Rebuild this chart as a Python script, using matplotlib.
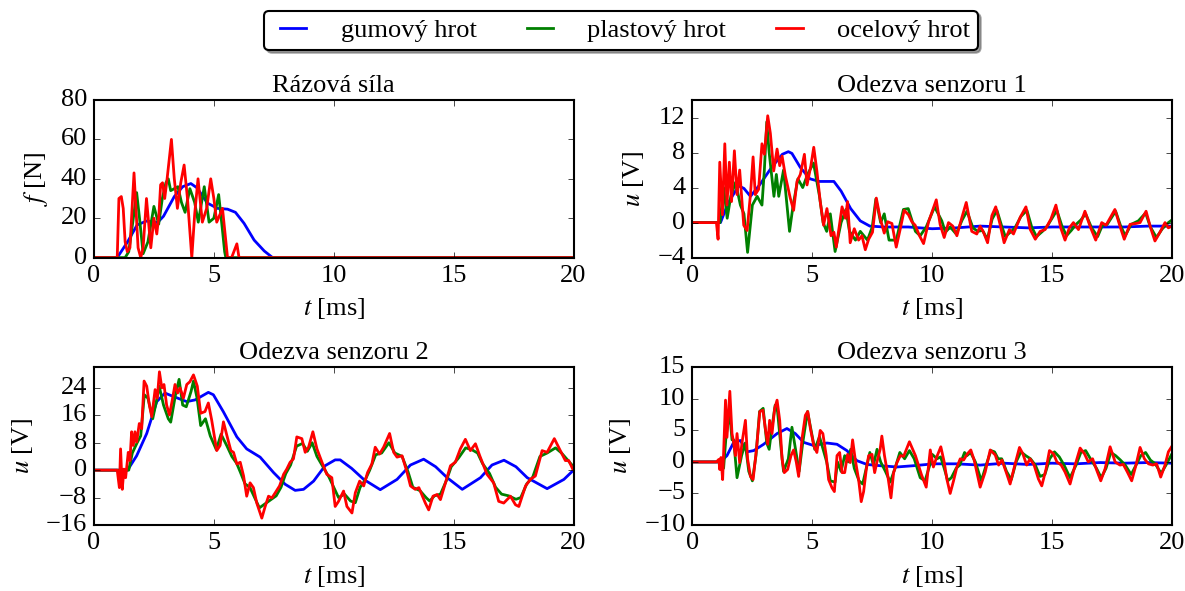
import numpy as np
import matplotlib
matplotlib.use('Agg')
import matplotlib.pyplot as plt

plt.style.use('classic')
plt.rcParams['font.family'] = ['Liberation Serif', 'DejaVu Serif']
plt.rcParams['mathtext.fontset'] = 'stix'
plt.rcParams['font.size'] = 19
plt.rcParams['figure.facecolor'] = 'white'
plt.rcParams['savefig.facecolor'] = 'white'

labels = ['gumový hrot', 'plastový hrot', 'ocelový hrot']
colors = ['b', 'g', 'r']

#******** Rázová síla [N] *************
f_gum_t = [0, 0.97, 1.4, 1.8, 2.2, 2.65, 2.9, 3.35, 3.7, 4.04, 4.3, 4.73, 5.15, 5.57,
           5.9, 6.26, 6.68, 7.1, 7.45, 20]
f_gum_v = [0, 0, 8, 16.6, 18.6, 17.8, 21, 31, 36, 37.6, 35.4, 27.7, 25, 24.6,
           23, 17.4, 8.9, 3.4, 0, 0]
f_pla_t = [0, 1.3, 1.45, 1.62, 1.78, 1.9, 2.05, 2.25, 2.5, 2.7, 2.85, 3.0, 3.1, 3.2,
           3.35, 3.5, 3.65, 3.8, 4.0, 4.2, 4.35, 4.6, 4.8, 5.0, 5.2, 5.35, 5.45, 5.5, 20]
f_pla_v = [0, 0, 3, 18, 33, 20, 2, 8, 26, 17, 30, 38, 40, 34,
           35, 36, 28, 23, 35, 28, 18, 36, 18, 20, 32, 15, 3, 0, 0]
f_oce_t = [0, 0.97, 1.04, 1.14, 1.22, 1.3, 1.39, 1.5, 1.67, 1.84, 1.95, 2.05, 2.19,
           2.37, 2.5, 2.62, 2.71, 2.78, 2.86, 2.95, 3.05, 3.23, 3.35, 3.48, 3.62,
           3.76, 3.9, 4.08, 4.2, 4.34, 4.52, 4.7, 4.87, 5.0, 5.12, 5.36, 5.57,
           5.74, 5.96, 6.05, 20]
f_oce_v = [0, 0, 30, 31, 25, 8, 3, 5, 43, 5, 0, 5, 30,
           5, 20, 12, 22, 37, 38, 30, 40, 60, 40, 25, 38,
           47, 30, 0, 22, 40, 18, 25, 40, 30, 18, 25, 0,
           0, 7, 0, 0]

#******** Odezva senzoru 1 [V] *************
u1_gum_t = [0, 1.17, 1.5, 1.93, 2.15, 2.42, 2.8, 3.3, 3.75, 4.0, 4.15, 4.5, 4.9, 5.3,
            5.9, 6.2, 6.6, 7.0, 7.4, 8, 9, 10, 11, 12, 13, 14, 15, 16, 17, 18, 19, 20]
u1_gum_v = [0, 0, 2.3, 4.2, 3.9, 3.0, 4.3, 6.3, 7.8, 8.1, 7.9, 6.3, 5.0, 4.7,
            4.7, 3.6, 1.6, 0.2, -0.4, -0.5, -0.5, -0.7, -0.6, -0.4, -0.5, -0.6,
            -0.5, -0.5, -0.5, -0.5, -0.4, -0.4]
u1_pla_t = [0, 1.15, 1.3, 1.45, 1.6, 1.8, 2.0, 2.15, 2.3, 2.5, 2.7, 2.9, 3.0, 3.1,
            3.2, 3.4, 3.5, 3.6, 3.8, 4.05, 4.2, 4.4, 4.6, 4.8, 5.05, 5.3, 5.45, 5.6,
            5.75, 5.95, 6.2, 6.4, 6.55, 6.8, 7.0, 7.3, 7.5, 7.65, 7.85, 8.0, 8.2,
            8.5, 8.8, 9.0, 9.3, 9.5, 9.75, 10.1, 10.4, 10.55, 10.75, 11.0, 11.25,
            11.45, 11.7, 11.9, 12.1, 12.3, 12.5, 12.7, 12.9, 13.05, 13.3, 13.45,
            13.7, 13.95, 14.15, 14.35, 14.6, 14.8, 15.0, 15.2, 15.4, 15.6, 15.8,
            16.0, 16.2, 16.4, 16.65, 16.9, 17.1, 17.3, 17.65, 17.85, 18.05, 18.3,
            18.6, 18.9, 19.1, 19.35, 19.6, 19.85, 20.0]
u1_pla_v = [0, 0, 4, 0.5, 3, 4.6, 2, 1, -3.4, 2, 3, 2, 6, 11.5,
            8, 3, 5.5, 3, 6, -1, 2, 5, 4, 5.5, 6.8, 3, 0, -1,
            1, -3.3, 0, 1.5, -1, -2, -1, -2, -0.5, 2.7, 0, 1, -2,
            -2, 1.5, 1.6, -1, -1.5, -0.5, 1.8, 0.2, -1.1, -0.5, -1.3, 0.3,
            1.3, -0.6, -1.0, -0.9, -1.9, 0.4, 1.4, -0.4, -1.6, -1.0, -0.6,
            0.7, 1.4, -0.5, -1.6, -1.0, -0.4, 0.5, 1.4, -0.3, -1.5, -0.9,
            -0.2, 0.3, 1.0, -0.6, -1.6, -0.3, -0.2, 1.3, -0.3, -1.5, -0.2,
            0.2, 1.1, -0.5, -1.7, -0.7, 0, 0.3]
u1_oce_t = [0, 1.0, 1.07, 1.14, 1.25, 1.35, 1.44, 1.54, 1.63, 1.75, 1.86, 1.97,
            2.14, 2.28, 2.42, 2.53, 2.62, 2.76, 2.9, 3.0, 3.14, 3.25, 3.39, 3.53,
            3.64, 3.74, 3.88, 4.08, 4.22, 4.36, 4.5, 4.67, 4.78, 4.94, 5.06, 5.19,
            5.33, 5.47, 5.61, 5.78, 5.9, 6.0, 6.24, 6.38, 6.47, 6.58, 6.75, 6.93,
            7.07, 7.21, 7.35, 7.51, 7.67, 7.83, 8.0, 8.14, 8.32, 8.5, 8.67, 8.83,
            9.01, 9.15, 9.29, 9.47, 9.64, 9.85, 10.17, 10.33, 10.5, 10.68, 10.86,
            11.03, 11.24, 11.42, 11.65, 11.86, 12.0, 12.14, 12.31, 12.49, 12.65,
            12.83, 13.0, 13.22, 13.39, 13.67, 13.91, 14.09, 14.3, 14.5, 14.71,
            14.95, 15.16, 15.36, 15.54, 15.72, 15.89, 16.1, 16.37, 16.58, 16.82,
            17.07, 17.25, 17.62, 17.83, 18.01, 18.25, 18.5, 18.67, 18.92, 19.11,
            19.29, 19.5, 19.71, 19.85, 20.0]
u1_oce_v = [0, 0, -1.9, 6.9, 0.9, 9.0, 2.0, 6.9, 2.4, 8.2, 3.2, 6.0,
            -0.3, -0.9, 3.2, 7.5, 3.2, 3.8, 9.0, 7.8, 12.2, 10.2, 5.9, 8.4,
            6.5, 7.6, 5.3, 2.8, 1.4, 4.7, 5.5, 7.8, 4.3, 6.5, 8.6, 5.9,
            2.4, -0.3, 1.6, -1.5, -1.1, -2.8, 1.8, 0.5, 2.4, -2.3, -0.7, -2.0,
            -1.5, -3.1, -1.9, -1.1, 2.8, 0.5, -1.2, 0.1, -0.1, -2.8, -0.7, 1.4,
            0.9, 0.1, -0.3, -1.5, -2.4, 0.1, 2.6, -0.2, -1.7, 0, -0.4,
            -1.5, 0.6, 2.3, -1.0, -1.3, -0.4, -1.1, -2.3, 0.8, 1.8,
            -0.2, -2.3, -0.8, -1.3, 0.6, 1.8, -0.8, -1.9, -1.0, -0.8,
            0.4, 2.0, -0.6, -2.0, -0.6, 0, -0.8, 1.3, -0.4, -2.0,
            0, -0.3, 1.5, -0.4, -1.9, -0.2, -0.1, 0, 1.3, -0.6,
            -2.1, -1.1, 0, -0.6, -0.4]

#******** Odezva senzoru 2 [V] *************
u2_gum_t = [0, 1.4, 1.78, 2.2, 2.62, 2.96, 3.31, 3.87, 4.22, 4.77, 4.98, 5.4, 5.96,
            6.37, 6.93, 7.49, 7.97, 8.39, 8.74, 9.16, 9.64, 10.06, 10.27, 10.75,
            11.25, 11.94, 12.64, 13.2, 13.75, 14.25, 14.73, 15.36, 16.12, 16.6,
            17.1, 17.6, 18.07, 18.9, 19.6, 20.0]
u2_gum_v = [0, 0, 4.2, 10.7, 20, 22.5, 21.5, 20, 20.5, 22.7, 22, 17, 9.7,
            6.2, 3.8, -0.7, -4.1, -5.9, -5.6, -3.2, 1.3, 3.0, 3.0, 0.5,
            -2.7, -5.7, -2.7, 1.5, 3.2, 1.0, -2.2, -5.6, -2.2, 1.5,
            2.9, 1.0, -2.2, -5.4, -2.7, 0]
u2_pla_t = [0, 1.45, 1.6, 1.8, 1.95, 2.1, 2.25, 2.45, 2.6, 2.72, 2.9, 3.1, 3.2, 3.4,
            3.55, 3.7, 3.85, 4.05, 4.15, 4.3, 4.45, 4.65, 4.85, 5.1, 5.3, 5.55,
            5.75, 5.95, 6.1, 6.3, 6.5, 6.7, 6.9, 7.1, 7.3, 7.6, 7.8, 8.0, 8.2,
            8.45, 8.7, 8.9, 9.1, 9.3, 9.55, 9.8, 10.0, 10.2, 10.45, 10.7, 10.9,
            11.1, 11.3, 11.5, 11.75, 12.0, 12.3, 12.55, 12.85, 13.1, 13.3, 13.6,
            13.85, 14.0, 14.2, 14.45, 14.7, 14.9, 15.2, 15.5, 15.75, 16.0, 16.2,
            16.5, 16.75, 17.0, 17.3, 17.6, 17.8, 18.05, 18.3, 18.6, 18.9, 19.25,
            19.5, 19.75, 20.0]
u2_pla_v = [0, 0, 5, 8, 10, 22, 21, 15, 20, 24.5, 19, 15, 14, 22,
            26.5, 19, 18.5, 23, 26, 21, 13, 15, 10, 6, 10.5, 7,
            4, 2, -0.5, -4, -5, -8, -11, -10, -9, -7.5, -5, -1, 1.5,
            7, 7.8, 5.5, 8, 4, 1, -2, -5, -8, -7, -9, -9.5,
            -5, -3, 0, 4.5, 5, 8, 5, 4, -0.5, -5, -6,
            -8, -9, -7.5, -7, -3, 1, 3.5, 6.5, 6, 5, 2,
            -1, -5, -7, -7.5, -8.5, -8, -4, -2, 4, 5, 6.5,
            5, 3, 1]
u2_oce_t = [0, 0.97, 1.06, 1.11, 1.18, 1.25, 1.32, 1.43, 1.5, 1.57, 1.64, 1.71, 1.78,
            1.89, 1.99, 2.09, 2.2, 2.31, 2.41, 2.55, 2.64, 2.73, 2.83, 2.92, 3.03,
            3.15, 3.28, 3.38, 3.49, 3.59, 3.73, 3.87, 4.0, 4.15, 4.31, 4.45, 4.63,
            4.77, 4.91, 5.12, 5.26, 5.4, 5.54, 5.71, 5.82, 5.96, 6.1, 6.24, 6.37,
            6.51, 6.65, 6.79, 7.0, 7.14, 7.28, 7.42, 7.56, 7.74, 7.91, 8.04, 8.18,
            8.32, 8.46, 8.67, 8.81, 8.95, 9.13, 9.3, 9.51, 9.71, 9.92, 10.06,
            10.2, 10.41, 10.55, 10.76, 10.9, 11.08, 11.25, 11.41, 11.59, 11.73,
            11.91, 12.08, 12.33, 12.5, 12.64, 12.85, 13.06, 13.2, 13.4, 13.55,
            13.82, 13.96, 14.14, 14.31, 14.45, 14.66, 14.87, 15.07, 15.28, 15.49,
            15.7, 15.91, 16.09, 16.39, 16.67, 16.88, 17.09, 17.37, 17.58, 17.72,
            18.0, 18.2, 18.41, 18.69, 18.9, 19.2, 19.45, 19.66, 19.8, 19.97]
u2_oce_v = [0, 0, -5.1, 6.2, -5.6, 0.3, -2.2, 5.2, 2.8, 11.2, 7.2, 11.2, 8.2,
            13.6, 12.1, 26, 24.5, 19, 15.6, 23.5, 21, 28.7, 24, 25, 19,
            16.1, 21, 25, 22.5, 24, 21, 25, 25.8, 27.8, 24.5, 16.6, 17.1,
            19.6, 14.6, 5.7, 7.2, 14.1, 10.2, 5.7, 5.2, 1.8, 2.3, -1.7, -7.6,
            -3.7, -5.1, -9.6, -14, -10.6, -7.6, -8.1, -6.6, -4.6, -1.2, 0.3, 2.3,
            3.3, 9.7, 9.2, 5.2, 6.7, 11.2, 6.2, 2.3, -1.2, -2.2, -10.6,
            -9.1, -6.1, -10.6, -12.5, -6.6, -3.2, -4.6, -0.7, 1.8, 6.7,
            4.7, 6.7, 10.7, 5.2, 3.8, 4.2, -0.7, -4.6, -5.6, -5.1,
            -9.6, -11.6, -7.6, -7.1, -8.6, -3.7, 1.3, 2.3, 6.2, 9.0,
            5.7, 7.7, 4.2, -1.2, -3.7, -9.1, -9.6, -7.6, -10.1, -10.6,
            -4.6, -2.7, -1.7, 5.7, 5.2, 9.2, 5.7, 2.8, 2.8, 0.3]

#******** Odezva senzoru 3 [V] *************
u3_gum_t = [0, 1.17, 1.44, 1.72, 2.0, 2.28, 2.56, 2.97, 3.53, 3.94, 4.29, 4.64, 5.06,
            5.61, 6.03, 6.44, 6.86, 7.28, 7.83, 8.53, 9.22, 10.06, 11, 12, 13, 14,
            15, 16, 17, 18, 19, 20]
u3_gum_v = [0, 0, 1.0, 3.1, 3.4, 1.6, 1.8, 2.8, 4.5, 5.3, 4.5, 3.1, 2.6,
            3.0, 2.8, 1.8, 0.2, -0.4, -0.6, -0.8, -0.6, -0.3, -0.3, -0.5, -0.2,
            -0.4, -0.2, -0.3, -0.1, -0.2, -0.1, -0.2]
u3_pla_t = [0, 1.15, 1.3, 1.4, 1.55, 1.65, 1.72, 1.86, 2.05, 2.2, 2.35, 2.5, 2.65,
            2.8, 2.95, 3.1, 3.2, 3.3, 3.45, 3.55, 3.7, 3.8, 4.0, 4.15, 4.3, 4.45,
            4.6, 4.8, 4.95, 5.1, 5.3, 5.45, 5.6, 5.75, 5.95, 6.05, 6.2, 6.35, 6.5,
            6.6, 6.75, 6.95, 7.1, 7.25, 7.4, 7.55, 7.7, 7.85, 8.05, 8.25, 8.45,
            8.65, 8.85, 9.05, 9.25, 9.5, 9.7, 9.9, 10.0, 10.2, 10.35, 10.5, 10.65,
            10.8, 11.0, 11.15, 11.35, 11.45, 11.6, 11.8, 12.05, 12.25, 12.45,
            12.6, 12.75, 12.9, 13.1, 13.3, 13.5, 13.7, 13.9, 14.1, 14.3, 14.5,
            14.7, 14.9, 15.1, 15.3, 15.5, 15.75, 16.0, 16.2, 16.4, 16.6, 16.85,
            17.05, 17.25, 17.45, 17.65, 17.85, 18.05, 18.3, 18.5, 18.7, 18.9,
            19.1, 19.3, 19.55, 19.75, 20.0]
u3_pla_v = [0, 0, -1, 4, 8, 3.5, 3.5, -2.5, 1, 3, -1.5, -3, 1,
            8, 8.5, 3, 2, 5, 9, 8, 2, -1.5, 0.5, 5.5, 2, -1.5,
            3, 8, 5, 2, 4, 2, 0, -3, -3.2, 0, -1.5, 1, 0,
            2, -1, -3, -3.5, -1, 1.5, -0.5, 2, 0, -1.5, -3.2, -1,
            1.5, 0.5, 1.8, 0.5, -2.5, -3, -0.5, 1.2, 0.5, 0.8, -1, -3.0,
            -2.5, -1.0, -0.5, 1.5, 1.0, 1.5, 0, -3.0, -0.5, 1.8,
            1.6, 0.5, 0.5, -1.5, -2.8, 0, 1.6, 1.0, 0.5, -0.5, -2.3,
            -2.0, 0.5, 1.6, 0.8, -0.5, -2.5, -0.5, 1.5, 1.8, 0.5, -1.0,
            -2.5, -1.0, 1.5, 1.0, 0.3, -0.5, -2.0, -0.5, 1.0, 1.5,
            0.3, -0.3, -1.8, -0.5, 1.3]
u3_oce_t = [0, 1.0, 1.1, 1.14, 1.19, 1.26, 1.38, 1.44, 1.56, 1.65, 1.72, 1.79, 1.86,
            1.97, 2.07, 2.21, 2.3, 2.42, 2.53, 2.67, 2.81, 2.94, 3.04, 3.14, 3.22,
            3.32, 3.43, 3.53, 3.64, 3.74, 3.83, 3.97, 4.11, 4.22, 4.33, 4.43, 4.57,
            4.71, 4.81, 4.92, 5.06, 5.19, 5.33, 5.44, 5.58, 5.68, 5.82, 5.92, 6.03,
            6.14, 6.24, 6.35, 6.47, 6.58, 6.68, 6.79, 6.93, 7.04, 7.14, 7.25, 7.35,
            7.49, 7.6, 7.69, 7.83, 7.9, 8.01, 8.11, 8.28, 8.39, 8.53, 8.67, 8.81,
            9.05, 9.3, 9.55, 9.75, 9.92, 10.05, 10.19, 10.36, 10.5, 10.61, 10.75,
            10.89, 11.03, 11.17, 11.31, 11.47, 11.61, 11.75, 12.0, 12.21, 12.42,
            12.63, 12.77, 12.91, 13.11, 13.25, 13.46, 13.64, 13.78, 13.94, 14.08,
            14.25, 14.43, 14.57, 14.75, 14.89, 15.06, 15.2, 15.38, 15.54, 15.75,
            15.96, 16.17, 16.35, 16.51, 16.69, 16.86, 17.03, 17.21, 17.42, 17.63,
            17.83, 17.97, 18.14, 18.32, 18.5, 18.67, 18.85, 19.02, 19.2, 19.36,
            19.53, 19.71, 19.85, 20.0]
u3_oce_v = [0, 0, 0.4, -1.2, 0.7, -2.8, 9.8, 3.9, 11.2, 4.5, 3.1, 1.0, 4.5,
            -0.1, 3.1, 6.6, 0.5, -2.3, -2.8, 2.0, 8.0, 8.2, 5.3, 2.8, 6.6,
            4.5, 8.5, 9.8, 6.6, 0.4, -1.7, -1.2, 1.0, 1.9, 0, -2.3, 3.7,
            7.4, 8.0, 5.3, 2.6, 1.5, 5.0, 4.5, 1.0, -2.8, -4.1, -4.7, 1.0,
            1.5, -1.7, -1.7, 1.2, -0.1, 3.5, 0.4, -2.8, -6.3, -4.7, -1.2, 1.0,
            1.2, -1.7, -0.1, 2.0, 4.1, 1.0, -1.2, -5.7, -1.7, -0.1, 1.0, 0.9,
            3.2, 1.0, -2.0, -4.0, 1.9, -0.8, 0.8, 2.4, 0, -2.7, -5.0,
            -3.0, -0.8, 0.5, 0.3, 1.3, 1.9, 0.3, -4.0, -1.6, 1.9,
            1.1, -0.5, 0.3, -1.9, -3.5, -0.3, 2.3, 1.3, -0.5, 0.5,
            -0.5, -2.7, -3.8, -1.1, 1.8, 1.3, 0, -0.5, -1.6, -3.5,
            -0.5, 2.2, 1.3, 0, 0.5, -1.3, -3.0, -1.1, 2.4, 0,
            -0.5, -0.4, -1.6, -3.0, -0.5, 2.3, 0.5, -0.3, -0.5, -0.3,
            -2.4, -0.5, 1.6, 2.5]

panels = [
    ('Rázová síla', r'$f$ [N]', (0, 80), [0, 20, 40, 60, 80],
     [(f_gum_t, f_gum_v), (f_pla_t, f_pla_v), (f_oce_t, f_oce_v)]),
    ('Odezva senzoru 1', r'$u$ [V]', (-4, 14), [-4, 0, 4, 8, 12],
     [(u1_gum_t, u1_gum_v), (u1_pla_t, u1_pla_v), (u1_oce_t, u1_oce_v)]),
    ('Odezva senzoru 2', r'$u$ [V]', (-16, 30), [-16, -8, 0, 8, 16, 24],
     [(u2_gum_t, u2_gum_v), (u2_pla_t, u2_pla_v), (u2_oce_t, u2_oce_v)]),
    ('Odezva senzoru 3', r'$u$ [V]', (-10, 15), [-10, -5, 0, 5, 10, 15],
     [(u3_gum_t, u3_gum_v), (u3_pla_t, u3_pla_v), (u3_oce_t, u3_oce_v)]),
]

fig, axes = plt.subplots(2, 2, figsize=(11.85, 5.91), dpi=100)
fig.subplots_adjust(left=0.0793, right=0.989, bottom=0.1117, top=0.8308,
                    wspace=0.248, hspace=0.696)

for ax, (title, ylabel, ylim, yticks, series) in zip(axes.flat, panels):
    for (t, v), c, lab in zip(series, colors, labels):
        ax.plot(t, v, color=c, lw=2.0, label=lab)
    ax.set_xlim(0, 20)
    ax.set_ylim(*ylim)
    ax.set_xticks([0, 5, 10, 15, 20])
    ax.set_yticks(yticks)
    ax.set_title(title, fontsize=19, pad=6)
    ax.set_xlabel(r'$t$ [ms]', fontsize=19, labelpad=7)
    ax.set_ylabel(ylabel, fontsize=19, labelpad=8)
    ax.tick_params(labelsize=19, pad=5)
    for s in ax.spines.values():
        s.set_linewidth(1.5)

h, l = axes[0, 0].get_legend_handles_labels()
leg = fig.legend(h, l, loc='upper center', bbox_to_anchor=(0.524, 0.982), ncol=3,
                 shadow=True, fancybox=True, fontsize=19, handlelength=1.6,
                 handletextpad=1.0, columnspacing=1.6, borderpad=0.3,
                 borderaxespad=0)
leg.get_frame().set_linewidth(1.5)

fig.savefig('out.png', dpi=100)
